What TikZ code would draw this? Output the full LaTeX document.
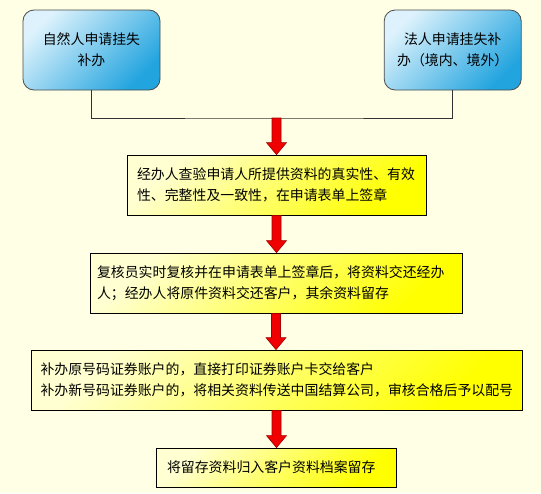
\documentclass[tikz,border=0pt]{standalone}
\usepackage{fontspec}
\setmainfont{Noto Sans CJK SC}
\usetikzlibrary{calc}
\definecolor{paper}{HTML}{FFFFE6}
\definecolor{skylight}{HTML}{DDF2FC}
\definecolor{skydark}{HTML}{22A4DF}
\definecolor{lemonlight}{HTML}{FFFFD2}
\definecolor{lemondark}{HTML}{FFFF00}
\definecolor{arrowred}{HTML}{F00000}
\definecolor{arrowedge}{HTML}{A00000}
\newcommand{\flowarrow}[2]{%
  \draw[flow] let \p1=#1, \p2=#2 in
    (\x1-4.5pt,\y1) -- (\x1+4.5pt,\y1) -- (\x1+4.5pt,\y2+12pt)
    -- (\x1+10pt,\y2+12pt) -- (\x1,\y2) -- (\x1-10pt,\y2+12pt)
    -- (\x1-4.5pt,\y2+12pt) -- cycle;}

\begin{document}
\begin{tikzpicture}[x=1pt,y=-1pt,
  font=\fontsize{13.9pt}{20.8pt}\selectfont,
  applicant/.style={draw=black!70,line width=0.8pt,rounded corners=11pt,
    top color=skylight,bottom color=skydark,shading angle=45,
    minimum width=137pt,minimum height=80pt,align=center,
    text width=125pt,inner sep=0pt},
  stepbox/.style={draw=black,line width=0.8pt,
    top color=lemonlight,bottom color=lemondark,shading angle=45,
    minimum height=60pt,align=left,inner sep=0pt},
  link/.style={draw=black!80,line width=0.8pt},
  flow/.style={fill=arrowred,draw=arrowedge,line width=0.6pt}
]
\useasboundingbox[fill=paper] (0,0) rectangle (541,493);
% applicants
\node[applicant] (self) at (91.5,50) {自然人申请挂失\\补办\\[4pt]};
\node[applicant] (corp) at (452.7,50) {法人申请挂失补\\办（境内、境外）\\[4pt]};
\coordinate (join) at (276.5,118);
\draw[link] (self.south) |- (join) -| (corp.south);
% steps
\node[stepbox,minimum width=299pt,text width=279pt] (check) at (276.5,185)
  {经办人查验申请人所提供资料的真实性、有效\\
   性、完整性及一致性，在申请表单上签章\\[5pt]};
\node[stepbox,minimum width=372pt,text width=358pt] (review) at (276,283)
  {复核员实时复核并在申请表单上签章后，将资料交还经办\\
   人；经办人将原件资料交还客户，其余资料留存\\[3pt]};
\node[stepbox,minimum width=491pt,text width=472pt] (issue) at (276.5,380)
  {补办原号码证券账户的，直接打印证券账户卡交给客户\\
   补办新号码证券账户的，将相关资料传送中国结算公司，审核合格后予以配号\\[3pt]};
\node[stepbox,minimum width=240pt,minimum height=39pt,text width=218pt]
  (archive) at (276,467.5) {将留存资料归入客户资料档案留存};
% arrows
\flowarrow{(join)}{(check.north)}
\flowarrow{(check.south)}{(review.north)}
\flowarrow{(review.south)}{(issue.north)}
\flowarrow{(issue.south)}{(archive.north)}
\end{tikzpicture}
\end{document}
